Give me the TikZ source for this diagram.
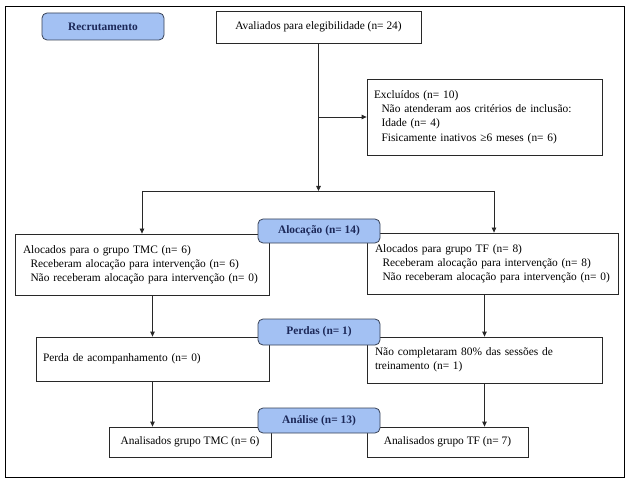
\documentclass[tikz,border=0pt]{standalone}
\usepackage{fontspec}
\setmainfont{Liberation Serif}
\usetikzlibrary{arrows.meta,positioning}
\definecolor{phasefill}{RGB}{163,193,243}
\definecolor{phasetext}{RGB}{28,40,88}
\definecolor{phaseline}{RGB}{55,65,85}
\definecolor{boxline}{RGB}{40,40,40}
\tikzset{
  px/.style={x=1pt,y=-1pt},
  box/.style={draw=boxline,line width=0.8pt,fill=white,inner sep=0pt,
    font=\fontsize{11.4}{14.2}\selectfont,anchor=center},
  lbox/.style={box,align=left},
  phase/.style={draw=phaseline,line width=0.8pt,fill=phasefill,rounded corners=5pt,
    inner sep=0pt,font=\fontsize{11.4}{14.2}\selectfont\bfseries,text=phasetext,anchor=center},
  arr/.style={draw=boxline,line width=0.8pt,-{Triangle[length=5pt,width=4.5pt]}},
  ln/.style={draw=boxline,line width=0.8pt},
}
\newcommand{\boxat}[7]{% name, x1, y1, x2, y2, style, text
  \pgfmathsetmacro{\bw}{#4-#2}\pgfmathsetmacro{\bh}{#5-#3}
  \pgfmathsetmacro{\bcx}{(#2+#4)/2}\pgfmathsetmacro{\bcy}{(#3+#5)/2}
  \node[#6,minimum width=\bw pt,minimum height=\bh pt] (#1) at (\bcx,\bcy) {#7};}
\newcommand{\ind}[1]{\mbox{\hspace*{7.5pt}#1}}
\begin{document}
\begin{tikzpicture}[px]
\useasboundingbox (0,0) rectangle (631,486);
\draw[black,line width=0.8pt] (5.5,6.5) rectangle (624.5,477.5);
% boxes
\boxat{rec}{42}{13}{164}{40}{phase}{Recrutamento}
\boxat{aval}{216}{11}{421}{43}{box}{Avaliados para elegibilidade (n= 24)}
\boxat{excl}{367}{79}{602}{155}{lbox,text width=221pt}{\mbox{Excluídos (n= 10)}\\
\ind{Não atenderam aos critérios de inclusão:}\\
\ind{Idade (n= 4)}\\
\ind{Fisicamente inativos ≥6 meses (n= 6)}}
\boxat{allocL}{15}{234}{269}{295}{lbox,text width=238pt}{\mbox{Alocados para o grupo TMC (n= 6)}\\
\ind{Receberam alocação para intervenção (n= 6)}\\
\ind{Não receberam alocação para intervenção (n= 0)}}
\boxat{allocR}{367}{233}{618}{294}{lbox,text width=235pt}{\mbox{Alocados para grupo TF (n= 8)}\\
\ind{Receberam alocação para intervenção (n= 8)}\\
\ind{Não receberam alocação para intervenção (n= 0)}}
\boxat{lossL}{36}{337}{269}{381}{lbox,text width=219pt}{\mbox{Perda de acompanhamento (n= 0)}}
\boxat{lossR}{367}{337}{602}{383}{lbox,text width=219pt}{\mbox{Não completaram 80\% das sessões de}\\\mbox{treinamento (n= 1)}}
\boxat{anaL}{109}{427}{271}{457}{box}{Analisados grupo TMC (n= 6)}
\boxat{anaR}{367}{427}{528}{457}{box}{Analisados grupo TF (n= 7)}
\boxat{alloc}{258}{219}{380}{243}{phase}{Alocação (n= 14)}
\boxat{perd}{258}{319}{380}{345}{phase}{Perdas (n= 1)}
\boxat{anal}{258}{408}{380}{433}{phase}{Análise (n= 13)}
% connectors
\coordinate (split) at (aval.south |- 0,191);
\coordinate (splitL) at (allocL.north |- split);
\coordinate (splitR) at (494,191);
\draw[arr] (aval.south) -- (split);
\draw[arr] (aval.south |- excl.west) -- (excl.west);
\draw[ln] (splitL) -- (splitR);
\draw[arr] (splitL) -- (allocL.north);
\draw[arr] (splitR) -- (splitR |- allocR.north);
\draw[arr] (allocL.south -| lossL.north) -- (lossL.north);
\draw[arr] (allocR.south -| lossR.north) -- (lossR.north);
\draw[arr] (lossL.south) -- (lossL.south |- anaL.north);
\draw[arr] (lossR.south) -- (lossR.south |- anaR.north);
\end{tikzpicture}
\end{document}
